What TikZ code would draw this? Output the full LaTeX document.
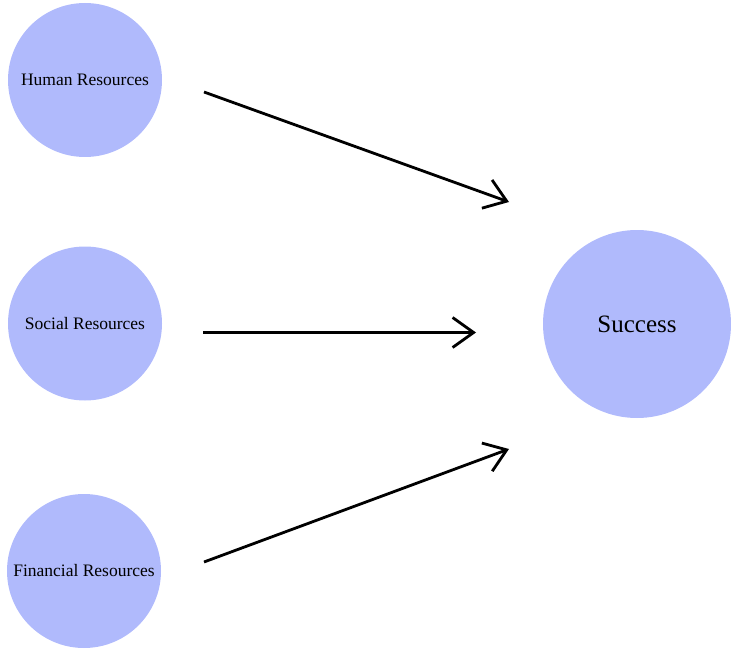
\documentclass[tikz,border=0pt]{standalone}
\usepackage{fontspec}
\setmainfont{Liberation Serif}
\usetikzlibrary{arrows.meta}
\definecolor{circfill}{RGB}{176,186,252}
\begin{document}
\begin{tikzpicture}[x=1pt,y=-1pt,
  res/.style={circle,fill=circfill,draw=none,minimum size=154pt,inner sep=0pt,font=\fontsize{17.5}{20}\selectfont},
  goal/.style={circle,fill=circfill,draw=none,minimum size=188pt,inner sep=0pt,font=\fontsize{25}{28}\selectfont},
  link/.style={line width=2.8pt,-{Straight Barb[length=21pt,width=30pt,line width=2.8pt]}}]
\useasboundingbox (0,0) rectangle (731,650);
\node[res] (hr) at (85,80) {Human Resources};
\node[res] (sr) at (85,323.5) {Social Resources};
\node[res] (fr) at (84,571) {Financial Resources};
\node[goal] (su) at (637,324) {Success};
\coordinate (hrs) at (204,92);
\coordinate (hre) at (509,202);
\coordinate (srs) at (203,332.5);
\coordinate (sre) at (476,332.5);
\coordinate (frs) at (204,562);
\coordinate (fre) at (509,449);
\draw[link] (hrs) -- (hre);
\draw[link] (srs) -- (sre);
\draw[link] (frs) -- (fre);
\end{tikzpicture}
\end{document}
